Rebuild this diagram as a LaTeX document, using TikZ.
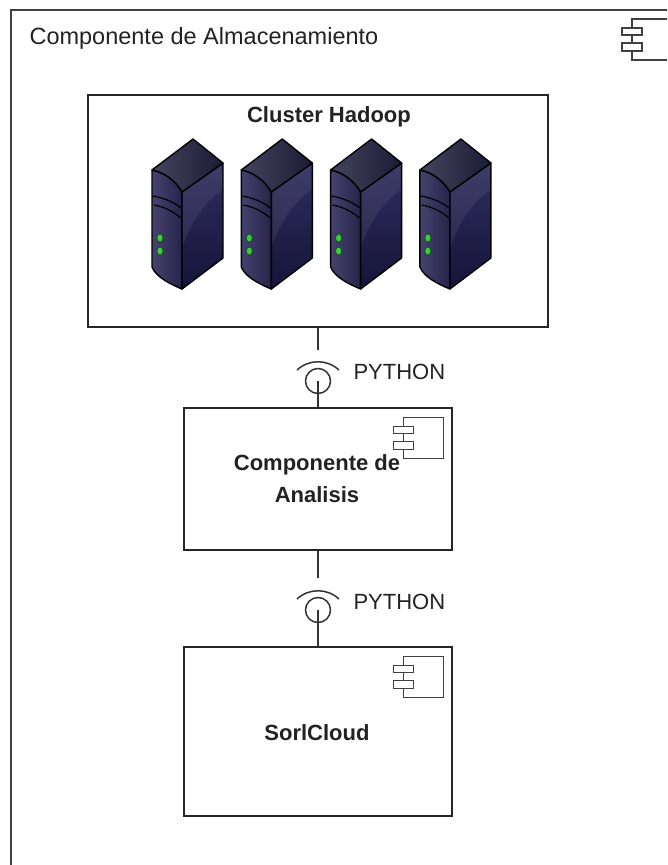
\documentclass[tikz,border=0pt]{standalone}
\usepackage{fontspec}
\setmainfont{Liberation Sans}
\usepackage{tikz}
\usetikzlibrary{positioning}

\definecolor{srvtop}{HTML}{1C1B36}
\definecolor{srvtophi}{HTML}{45445F}
\definecolor{srvleft}{HTML}{262449}
\definecolor{srvlefthi}{HTML}{45436E}
\definecolor{srvright}{HTML}{15143A}
\definecolor{srvrighthi}{HTML}{302E5E}
\definecolor{led}{HTML}{3CCB3C}
\definecolor{ink}{HTML}{222222}

% uml component glyph, hung from a box's north east corner
\newcommand{\compicon}[1]{%
  \begin{scope}[shift={#1}]
    \draw[icon] (-49,10) rectangle (-9,51);
    \draw[icon, fill=white] (-59,19) rectangle (-39,26);
    \draw[icon, fill=white] (-59,34) rectangle (-39,42);
  \end{scope}}

\begin{document}
\begin{tikzpicture}[x=1pt, y=-1pt,
    box/.style={draw=black!85, line width=1.5pt, minimum width=268pt, inner sep=0pt, text=ink},
    wire/.style={draw=black!80, line width=1.5pt},
    ball/.style={circle, draw=black!80, line width=1.5pt, minimum size=25pt, inner sep=0pt},
    icon/.style={draw=black!75, line width=1.3pt},
    lbl/.style={font=\fontsize{22}{26}\selectfont, text=ink},
    bold/.style={font=\bfseries\fontsize{22}{32}\selectfont, align=center},
    edge/.style={draw=black, line width=1.4pt, line join=round},
]
  \useasboundingbox (0,0) rectangle (667,865);
  \clip (0,0) rectangle (667,865);

  % outer storage component
  \draw[draw=black!75, line width=1.5pt] (11,10) rectangle (700,900);
  \node[lbl, anchor=west] (store) at (26,38) {\fontsize{23.5}{28}\selectfont Componente de Almacenamiento};
  \compicon{(681,9)}

  % hadoop cluster
  \node[box, minimum width=460pt, minimum height=232pt] (hadoop) at (318,211) {};
  \node[bold, text=ink] (htitle) at (329,117) {Cluster Hadoop};

  \foreach \i in {0,...,3} {
    \begin{scope}[shift={(152+89.3*\i,170)}]
      \draw[edge, left color=srvlefthi, right color=srvleft]
        (0,0) .. controls (12,2) and (24,11) .. (30,22) -- (30,119)
        .. controls (18,114) and (4,107) .. (0,97) -- cycle;
      \draw[edge, top color=srvrighthi, bottom color=srvright]
        (30,22) -- (71,-7) -- (71,88) -- (30,119) -- cycle;
      \fill[white, opacity=0.07] (31,22) -- (70,-5) -- (70,20)
        .. controls (55,30) and (40,50) .. (31,75) -- cycle;
      \draw[edge, left color=srvtophi, right color=srvtop]
        (0,0) -- (41,-31) -- (71,-7) -- (30,22)
        .. controls (24,11) and (12,2) .. (0,0) -- cycle;
      % slots
      \draw[black, line width=1.2pt] (1,26) .. controls (12,28) and (22,32) .. (29,38);
      \draw[black, line width=1.2pt] (2,35) .. controls (13,37) and (22,42) .. (29,48);
      % leds
      \fill[led, draw=green!30!black, line width=0.5pt] (8,68) ellipse (3pt and 4pt);
      \fill[led, draw=green!30!black, line width=0.5pt] (8,81) ellipse (3pt and 4pt);
    \end{scope}
  }

  % analysis component
  \node[box, minimum height=142pt] (analisis) at (318,479) {};
  \compicon{(analisis.north east)}
  \node[bold, text=ink] (atext) at (317,479) {Componente de\\Analisis};

  % solr cloud
  \node[box, minimum height=169pt] (sorl) at (318,731.5) {};
  \compicon{(sorl.north east)}
  \node[bold, text=ink] (stext) at (317,733) {SorlCloud};

  % provided / required interfaces
  \coordinate (t1) at (318,350);
  \node[ball] (b1) at (318,381) {};
  \draw[wire] (hadoop.south) -- (t1);
  \draw[wire] (b1.center) -- (analisis.north);
  \draw[wire] (b1) ++(-21,-11) .. controls +(12,-11) and +(-12,-11) .. ++(42,0);
  \node[lbl, anchor=west] (py1) at (350,372) {PYTHON};

  \coordinate (t2) at (318,578);
  \node[ball] (b2) at (318,610) {};
  \draw[wire] (analisis.south) -- (t2);
  \draw[wire] (b2.center) -- (sorl.north);
  \draw[wire] (b2) ++(-21,-11) .. controls +(12,-11) and +(-12,-11) .. ++(42,0);
  \node[lbl, anchor=west] (py2) at (350,602) {PYTHON};
\end{tikzpicture}
\end{document}
